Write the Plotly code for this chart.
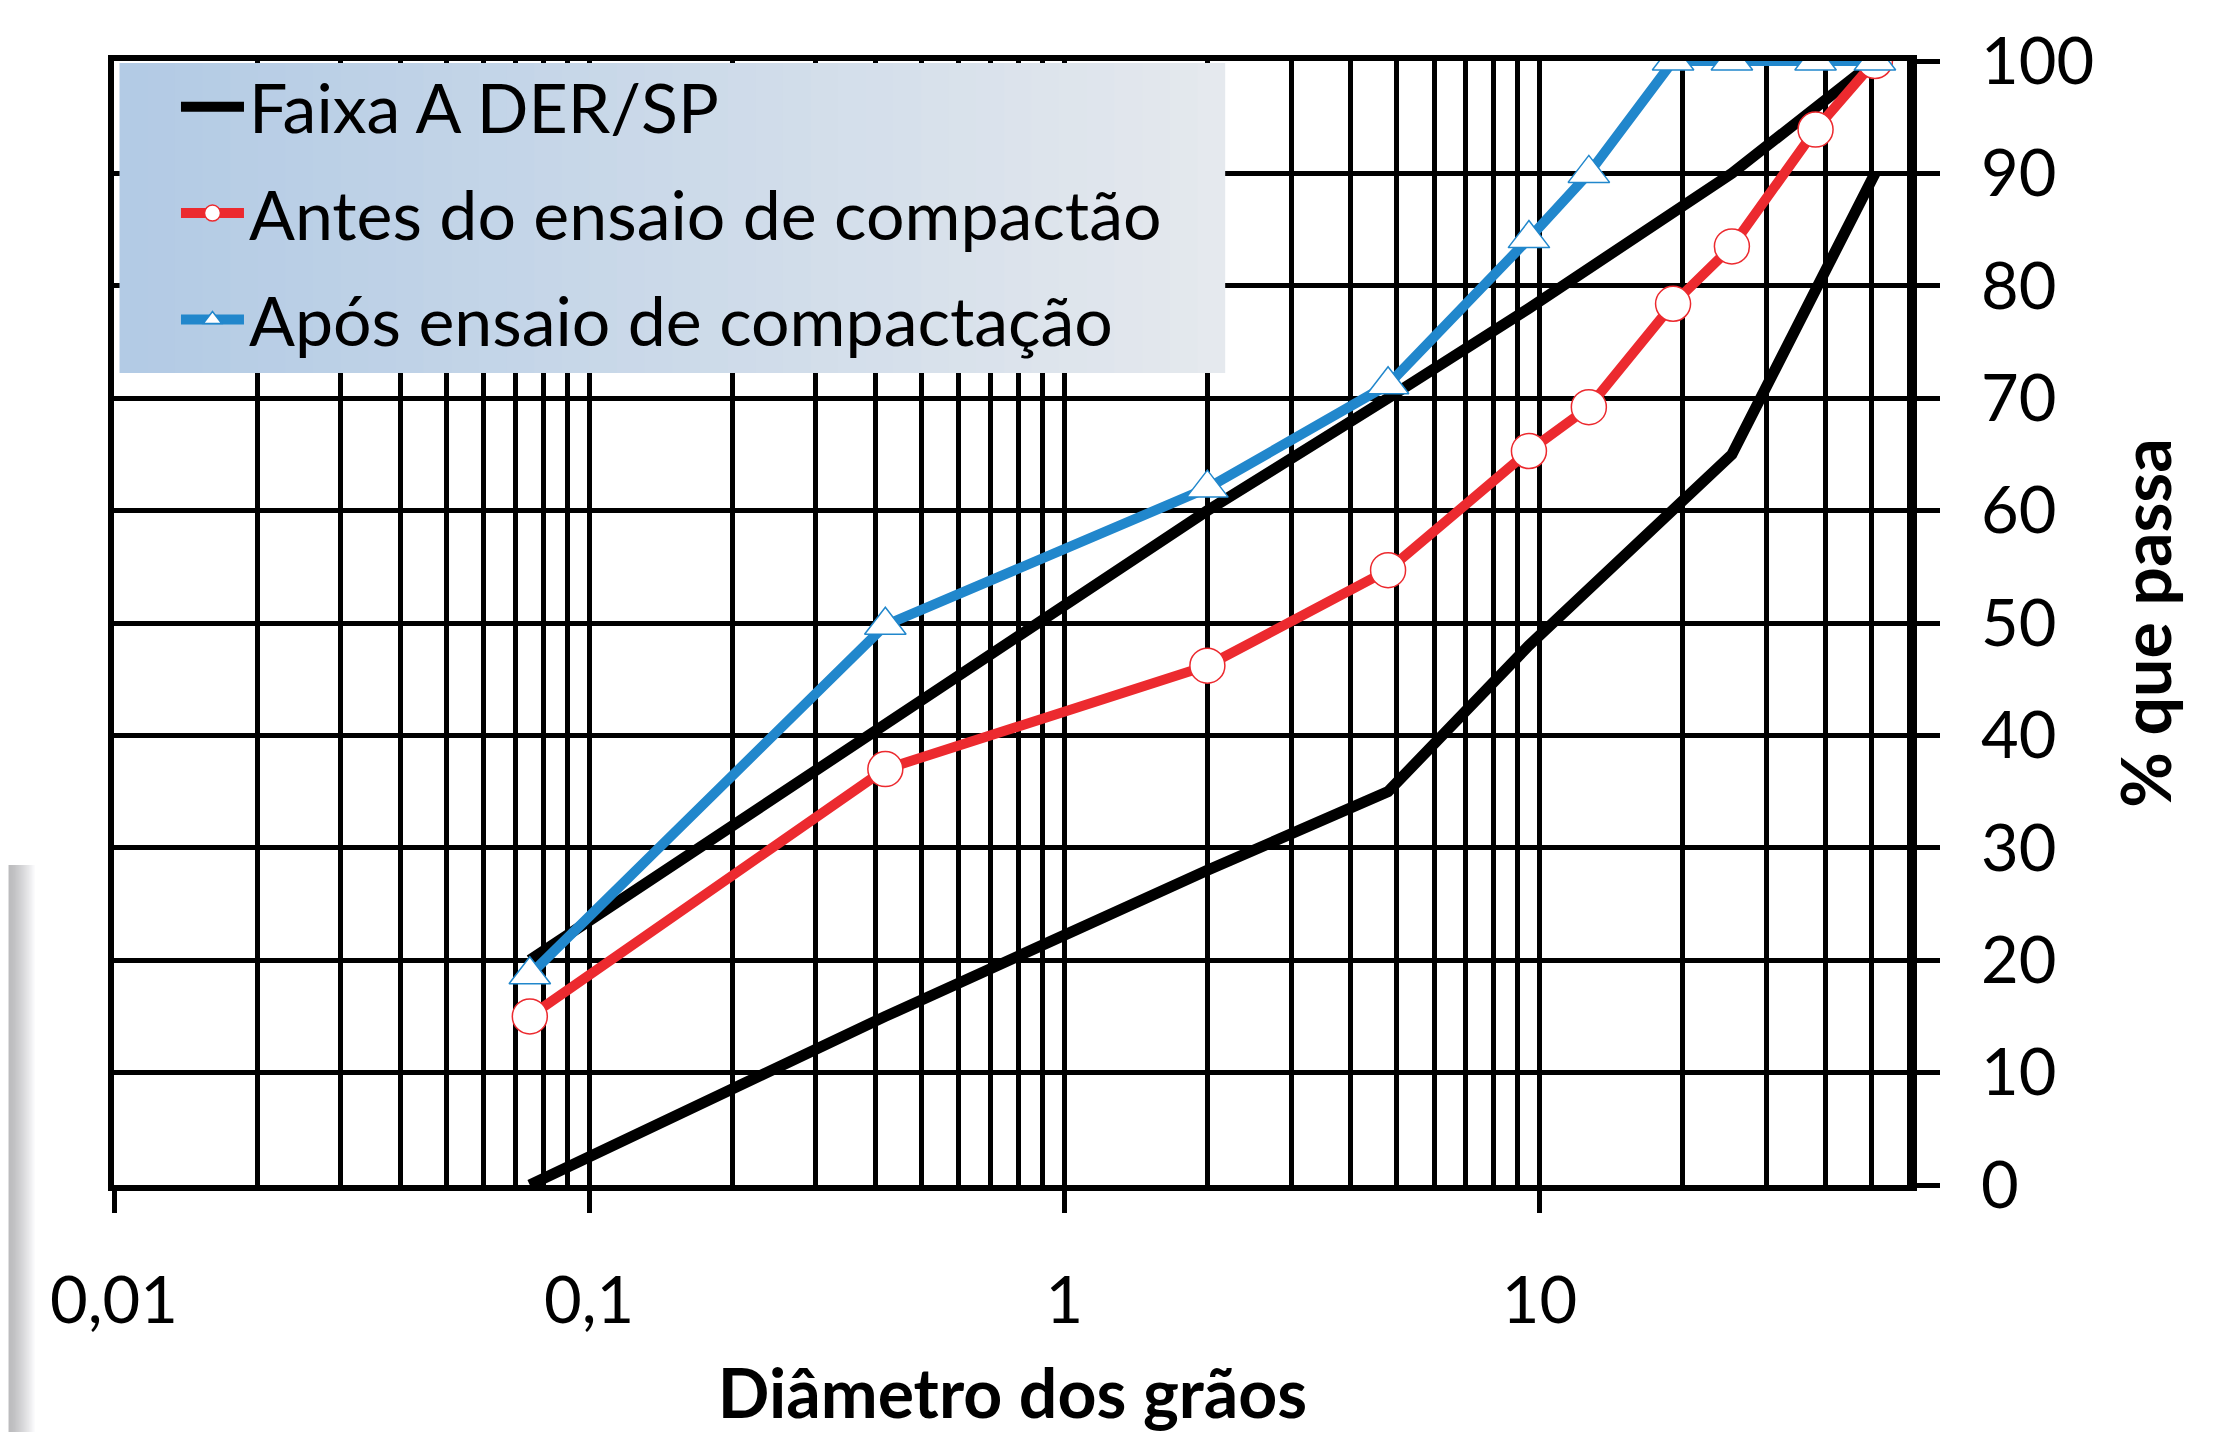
import numpy as np
import plotly.graph_objects as go

# ---------------- data ----------------
faixa_sup_x = [0.075, 0.42, 2.0, 4.8, 9.5, 25.4, 50.8]
faixa_sup_y = [20, 41, 60, 70, 78, 90, 100]
faixa_inf_x = [0.075, 0.42, 2.0, 4.8, 9.5, 25.4, 50.8]
faixa_inf_y = [0, 15, 28, 35, 48, 65, 90]

peneiras = [0.075, 0.42, 2.0, 4.8, 9.5, 12.7, 19.1, 25.4, 38.1, 50.8]
antes_y = [15.0, 37.0, 46.2, 54.7, 65.3, 69.2, 78.4, 83.5, 93.9, 100]
apos_y = [18.7, 49.8, 62.0, 71.2, 84.2, 90.0, 100, 100, 100, 100]

x_tickvals = [0.01, 0.1, 1, 10]
x_ticktext = ["0,01", "0,1", "1", "10"]
y_tickvals = [0, 10, 20, 30, 40, 50, 60, 70, 80, 90, 100]

FONT = "Lato, Carlito, Calibri, 'Liberation Sans', sans-serif"
FS_TICK = 65
FS_TXT = 68

# page offset of the html body (8px default margin)
OFF = 8
W, H = 2225 - OFF, 1432 - OFF
L, R, T, B = 113.5 - OFF, 1911 - OFF, 61 - OFF, 1185 - OFF

fig = go.Figure()

fig.add_trace(go.Scatter(
    x=faixa_sup_x + [None] + faixa_inf_x,
    y=faixa_sup_y + [None] + faixa_inf_y,
    mode="lines", name="Faixa A DER/SP", legendgroup="a",
    line=dict(color="black", width=11),
    connectgaps=False,
))
fig.add_trace(go.Scatter(
    x=peneiras, y=antes_y, mode="lines+markers",
    name="Antes do ensaio de compactão", legendgroup="b",
    line=dict(color="#ec2a2f", width=10),
    marker=dict(symbol="circle", size=35, color="white",
                line=dict(color="#ec2a2f", width=1.5)),
))
fig.add_trace(go.Scatter(
    x=peneiras, y=apos_y, mode="lines+markers",
    name="Após ensaio de compactação", legendgroup="c",
    line=dict(color="#2187cc", width=10),
    marker=dict(symbol="triangle-up", size=36, color="white",
                line=dict(color="#2187cc", width=1.5)),
))

# minor grid values (2..9 in each decade)
minor_vals = [m * 10.0 ** e for e in range(-2, 2) for m in range(2, 10) if m * 10.0 ** e <= 60]

pw = R - L
ph = B - T


def px2paperx(px):
    # px in page coordinates
    return (px - OFF - L) / pw


def px2papery(py):
    return 1 - (py - OFF - T) / ph


shapes = []
# legend background gradient (stripes)
lx0, lx1, ly0, ly1 = 119, 1225, 63, 373
n = 40
c0 = np.array([0xb3, 0xcb, 0xe5])
c1 = np.array([0xe5, 0xe9, 0xee])
for i in range(n):
    f = i / (n - 1)
    c = (c0 * (1 - f) + c1 * f).astype(int)
    xa = lx0 + (lx1 - lx0) * i / n
    xb = lx0 + (lx1 - lx0) * (i + 1) / n + 1
    shapes.append(dict(type="rect", xref="paper", yref="paper",
                       x0=px2paperx(xa), x1=px2paperx(min(xb, lx1)),
                       y0=px2papery(ly1), y1=px2papery(ly0),
                       fillcolor=f"rgb({c[0]},{c[1]},{c[2]})",
                       line=dict(width=0), layer="above"))
# left page shading artifact (gray fading band)
ns = 14
g0, g1 = 0xbc, 0xff
for i in range(ns):
    f = i / (ns - 1)
    g = int(g0 + (g1 - g0) * f ** 1.3)
    xa = OFF + i * 2
    shapes.append(dict(type="rect", xref="paper", yref="paper",
                       x0=px2paperx(xa), x1=px2paperx(xa + 2.5),
                       y0=px2papery(1440), y1=px2papery(865),
                       fillcolor=f"rgb({g},{g},{g + 2 if g < 254 else 255})",
                       line=dict(width=0), layer="below"))

fig.update_layout(
    width=W, height=H,
    margin=dict(l=L, r=W - R, t=T, b=H - B, pad=0, autoexpand=False),
    paper_bgcolor="white", plot_bgcolor="white",
    font=dict(family=FONT, size=FS_TICK, color="black"),
    showlegend=True,
    legend=dict(x=px2paperx(175.5), y=px2papery(56), xanchor="left", yanchor="top",
                bgcolor="rgba(0,0,0,0)", borderwidth=0,
                font=dict(family=FONT, size=FS_TXT, color="black"),
                traceorder="grouped", tracegroupgap=15, itemwidth=63),
    shapes=shapes,
    xaxis=dict(
        type="log", range=[np.log10(0.01), np.log10(60.5)],
        tickvals=x_tickvals, ticktext=x_ticktext,
        ticks="outside", ticklen=22, tickwidth=5, tickcolor="black",
        ticklabelstandoff=32,
        showgrid=True, gridcolor="black", gridwidth=4.5,
        minor=dict(tickvals=minor_vals, showgrid=True, gridcolor="black",
                   gridwidth=4.5, ticks=""),
        showline=True, linecolor="black", linewidth=6, mirror=True,
        zeroline=False, automargin=False, layer="below traces",
        title=dict(text="<b>Diâmetro dos grãos</b>", standoff=43,
                   font=dict(family=FONT, size=FS_TXT, color="black")),
    ),
    yaxis=dict(
        side="right", range=[0, 100], tickvals=y_tickvals,
        ticks="outside", ticklen=23, tickwidth=5, tickcolor="black",
        ticklabelstandoff=28,
        showgrid=True, gridcolor="black", gridwidth=4.5,
        showline=True, linecolor="black", linewidth=6, mirror=True,
        zeroline=False, automargin=False, layer="below traces",
        title=dict(text="<b>% que passa</b>", standoff=32,
                   font=dict(family=FONT, size=FS_TXT, color="black")),
    ),
)

fig.write_html("out.html")
